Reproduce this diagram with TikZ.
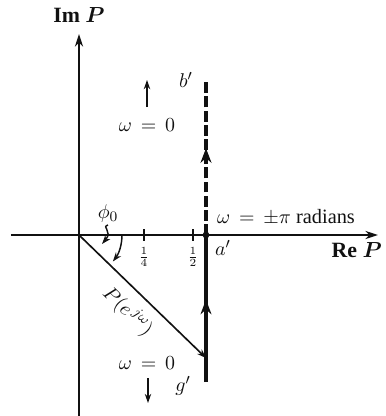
\documentclass[tikz,border=0pt]{standalone}
\usepackage{amsmath}
\usepackage{bm}
\usepackage{fontspec}
\setmainfont{Liberation Serif}
\usepackage{tikz}
\usepackage{xcolor}
\usetikzlibrary{arrows.meta, positioning, calc, decorations.markings}
\definecolor{FigInk}{HTML}{111111}

\begin{document}
\begin{tikzpicture}[
    x=0.55pt, y=-0.55pt,
    font=\fontsize{11.2}{13}\selectfont,
    line cap=butt,
    axisline/.style={
      line width=1.1pt,
      draw=FigInk,
      -{Stealth[length=7pt,width=4.5pt]},
    },
    locus/.style={
      line width=2pt,
      draw=FigInk,
      postaction={decorate},
      decoration={markings,
        mark=at position 0.56 with {\arrow{Stealth[length=8pt,width=6pt]}}},
    },
    brokenlocus/.style={
      locus,
      dash pattern=on 6pt off 1.8pt,
    },
    hint/.style={
      line width=0.8pt,
      draw=FigInk,
      -{Stealth[length=5pt,width=3.5pt]},
    },
    tickmark/.style={line width=0.8pt, draw=FigInk},
    lbl/.style={text=FigInk, inner sep=1pt},
  ]
    \useasboundingbox (0,0) rectangle (386,416);

    % axes
    \coordinate (O) at (79,235);
    \coordinate (xl) at (11,235);
    \coordinate (xr) at (378,235);
    \coordinate (yb) at (79,416);
    \coordinate (yt) at (79,34);
    \draw[axisline] (xl) -- (xr);
    \draw[axisline] (yb) -- (yt);
    \node[lbl, font=\fontsize{12}{14}\selectfont\bfseries] (imP) at (79,15) {Im {\boldmath$P$}};
    \node[lbl, font=\fontsize{12}{14}\selectfont\bfseries, anchor=east] (reP) at (384,250) {Re {\boldmath$P$}};

    % ticks
    \foreach \tx/\tl/\tn in {144/\frac{1}{4}/q, 193/\frac{1}{2}/h} {
      \draw[tickmark] (\tx,229) -- (\tx,241);
      \node[lbl, font=\footnotesize] (tick\tn) at (\tx,257) {$\tl$};
    }

    % locus points
    \coordinate (ap) at (206,235);
    \coordinate (bp) at (206,80);
    \coordinate (gp) at (206,382);
    \coordinate (tip) at (206,358);
    \draw[brokenlocus] (ap) -- (bp);
    \draw[locus] (gp) -- (ap);
    \fill[FigInk] (ap) circle[radius=3.4];

    \node[lbl] (bl) at (186,80) {$b'$};
    \node[lbl] (al) at (223,248) {$a'$};
    \node[lbl] (gl) at (183,386) {$g'$};
    \node[lbl, anchor=west] (pi) at (215,217) {$\omega\,=\,\pm\pi$ radians};

    % phasor
    \draw[hint, line width=0.9pt] (O) -- node[lbl, midway, below=4pt, sloped] (phasor) {$P(e^{\,j\omega})$} (tip);

    % angle
    \node[lbl] (phi) at (108,214) {$\phi_0$};
    \coordinate (phiend) at (102,244);
    \draw[hint] (phi.south) .. controls (101,227) and (113,231) .. (phiend);
    \draw[hint] ($(O)+(43,0)$) arc[start angle=0, end angle=38, radius=43];

    % omega = 0 hints
    \node[lbl] (wtop) at (147,125) {$\omega\,=\,0$};
    \coordinate (wtopa) at (147,80);
    \draw[hint] (147,107) -- (wtopa);
    \node[lbl] (wbot) at (147,363) {$\omega\,=\,0$};
    \coordinate (wbota) at (148,403);
    \draw[hint] (148,378) -- (wbota);
  \end{tikzpicture}
\end{document}
